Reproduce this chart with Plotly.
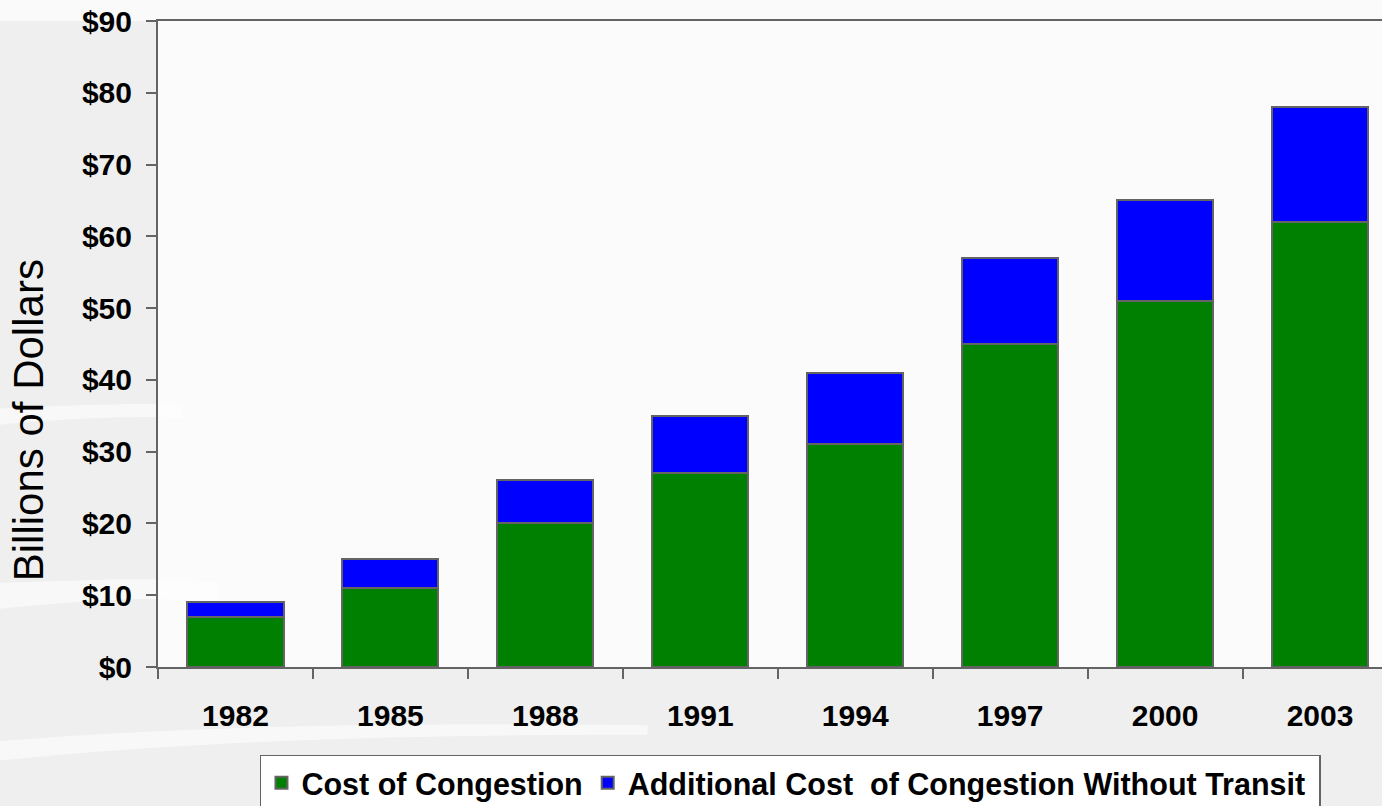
import plotly.graph_objects as go

years = ["1982", "1985", "1988", "1991", "1994", "1997", "2000", "2003"]
cost_congestion = [7, 11, 20, 27, 31, 45, 51, 62]
additional_cost = [2, 4, 6, 8, 10, 12, 14, 16]
y_ticks = [0, 10, 20, 30, 40, 50, 60, 70, 80, 90]
y_tick_labels = ["$" + str(v) for v in y_ticks]

FONT = "Liberation Sans, Arial, sans-serif"
EDGE = "#646464"
PAPER = "#efefef"

fig = go.Figure()
fig.add_trace(go.Bar(
    x=years, y=cost_congestion, name="Cost of Congestion",
    marker=dict(color="#008000", line=dict(color=EDGE, width=2)),
    width=0.62,
))
fig.add_trace(go.Bar(
    x=years, y=additional_cost,
    name="Additional Cost\u00a0 of Congestion Without Transit\u00a0",
    marker=dict(color="#0000ff", line=dict(color=EDGE, width=2)),
    width=0.62,
))

# soft white streaks of the slide background (paper coordinates)
streaks = [
    "M -0.13,0.40 C -0.08,0.405 0.0,0.41 0.02,0.405 L 0.02,0.385 C 0.0,0.39 -0.08,0.385 -0.13,0.375 Z",
    "M -0.13,0.13 C -0.05,0.135 0.0,0.14 0.05,0.13 L 0.05,0.10 C 0.0,0.11 -0.05,0.105 -0.13,0.09 Z",
    "M -0.13,-0.115 C 0.0,-0.095 0.15,-0.085 0.4,-0.09 L 0.4,-0.105 C 0.15,-0.105 0.0,-0.12 -0.13,-0.145 Z",
]
shapes = [dict(type="path", path=p, xref="paper", yref="paper",
               fillcolor="rgba(255,255,255,0.55)", line=dict(width=0), layer="below")
          for p in streaks]
# light top band
shapes.append(dict(type="rect", xref="paper", yref="paper", x0=-0.13, x1=1.0, y0=1.0, y1=1.04,
                   fillcolor="rgba(255,255,255,0.7)", line=dict(width=0), layer="below"))

fig.update_layout(
    width=1382, height=806,
    barmode="stack",
    paper_bgcolor=PAPER,
    plot_bgcolor="#fbfbfb",
    margin=dict(l=158, r=0, t=21, b=139, autoexpand=False),
    font=dict(family=FONT, color="black"),
    showlegend=True,
    legend=dict(
        orientation="h", x=0.0833, xanchor="left", y=-0.1362, yanchor="top",
        bgcolor="white", bordercolor=EDGE, borderwidth=1.5,
        font=dict(family=FONT, size=30.5, color="black", weight="bold"),
        traceorder="normal", itemwidth=30,
    ),
    shapes=shapes,
    annotations=[dict(
        text="Billions of Dollars", xref="paper", yref="paper",
        x=-0.1062, y=0.382, xanchor="center", yanchor="middle",
        textangle=-90, showarrow=False,
        font=dict(family=FONT, size=42, color="black"),
    )],
)

fig.update_xaxes(
    type="category", range=[-0.5, 7.4],
    showline=True, linecolor=EDGE, linewidth=2, mirror=True,
    ticks="outside", ticklen=10, tickcolor=EDGE, tickwidth=2,
    tickson="boundaries", showgrid=False,
    tickfont=dict(family=FONT, size=30, color="black", weight="bold"),
    ticklabelstandoff=21,
)
fig.update_yaxes(
    range=[0, 90], tickvals=y_ticks, ticktext=y_tick_labels,
    showline=True, linecolor=EDGE, linewidth=2,
    ticks="outside", ticklen=10, tickcolor=EDGE, tickwidth=2,
    showgrid=False, zeroline=False,
    tickfont=dict(family=FONT, size=30, color="black", weight="bold"),
    ticklabelstandoff=8, ticklabeloverflow="allow",
)

fig.write_html(
    "out.html",
    config={"displayModeBar": False},
    post_script="document.body.style.margin='0';document.body.style.background='%s';" % PAPER,
)
